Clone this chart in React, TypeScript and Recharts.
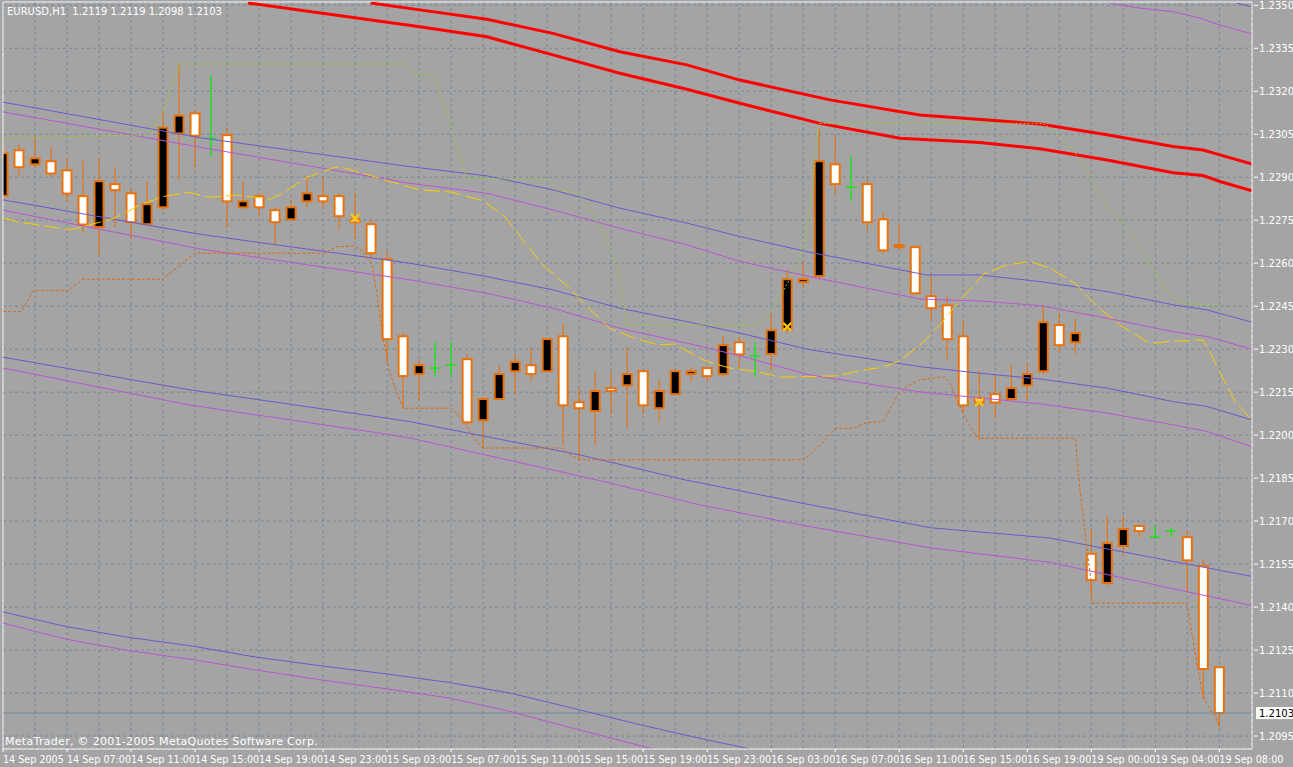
import React from "react"
import {
  ComposedChart,
  Bar,
  Line,
  Scatter,
  XAxis,
  YAxis,
  CartesianGrid,
  ReferenceLine,
} from "recharts"

const symbol = "EURUSD,H1"

// hourly bars, bar 0 = 14 Sep 03:00
const opens = [
  1.22835, 1.22994, 1.22945, 1.22956, 1.22924, 1.22834, 1.22726, 1.22876, 1.22844, 1.22736,
  1.22795, 1.23053, 1.23123, 1.23036, 1.23047, 1.22795, 1.22834, 1.22785, 1.22753, 1.22816,
  1.22834, 1.22834, 1.22753, 1.22736, 1.22614, 1.22345, 1.22213, 1.22234, 1.22244, 1.22265,
  1.22052, 1.22126, 1.22223, 1.22244, 1.22223, 1.22345, 1.22115, 1.22084, 1.22164, 1.22174,
  1.22223, 1.22094, 1.22143, 1.22213, 1.22234, 1.22213, 1.22324, 1.22276, 1.22283, 1.2237,
  1.22534, 1.22555, 1.22945, 1.22865, 1.22876, 1.22753, 1.22656, 1.22656, 1.22485, 1.22453,
  1.22345, 1.22129, 1.22143, 1.22126, 1.22174, 1.22223, 1.22384, 1.22324, 1.21586, 1.21484,
  1.21613, 1.21683, 1.21644, 1.21665, 1.21644, 1.21543, 1.2119,
]
const highs = [
  1.23037, 1.23015, 1.23044, 1.23006, 1.22966, 1.22958, 1.22966, 1.22937, 1.22865, 1.22887,
  1.23135, 1.23298, 1.23135, 1.23256, 1.23071, 1.22887, 1.22844, 1.22795, 1.2282, 1.229,
  1.229, 1.22844, 1.22844, 1.22753, 1.22642, 1.22356, 1.22265, 1.22325, 1.22325, 1.22283,
  1.22133, 1.22244, 1.22283, 1.22306, 1.22338, 1.22384, 1.22167, 1.22223, 1.22223, 1.22305,
  1.22223, 1.22195, 1.22223, 1.22237, 1.22234, 1.22345, 1.22345, 1.22324, 1.22426, 1.22576,
  1.22607, 1.23071, 1.23049, 1.22974, 1.22893, 1.22774, 1.22743, 1.22663, 1.22555, 1.22485,
  1.22401, 1.22223, 1.22213, 1.22244, 1.22251, 1.22453, 1.22426, 1.22405, 1.21673, 1.21716,
  1.21716, 1.21683, 1.21685, 1.21676, 1.21667, 1.21565, 1.2119,
]
const lows = [
  1.22821, 1.22902, 1.22933, 1.22902, 1.22813, 1.22705, 1.22629, 1.22724, 1.22685, 1.22734,
  1.22786, 1.22891, 1.22933, 1.22974, 1.22724, 1.22795, 1.22763, 1.22661, 1.22753, 1.22795,
  1.22792, 1.22715, 1.22684, 1.22617, 1.22258, 1.22094, 1.22122, 1.22204, 1.22204, 1.22036,
  1.21955, 1.22123, 1.22143, 1.22185, 1.2222, 1.21965, 1.21913, 1.21965, 1.22073, 1.22023,
  1.22073, 1.22045, 1.2214, 1.22185, 1.22185, 1.22204, 1.22234, 1.22204, 1.22223, 1.22356,
  1.22513, 1.22542, 1.22841, 1.22816, 1.22712, 1.22635, 1.22645, 1.22495, 1.22401, 1.22265,
  1.22077, 1.21984, 1.22059, 1.22115, 1.22122, 1.22213, 1.2229, 1.22283, 1.21436, 1.21472,
  1.21581, 1.21644, 1.21644, 1.21644, 1.21454, 1.21079, 1.2098,
]
const closes = [
  1.22984, 1.22935, 1.22966, 1.22913, 1.22843, 1.22735, 1.22886, 1.22855, 1.22743, 1.22806,
  1.23073, 1.23115, 1.23045, 1.23036, 1.22816, 1.22816, 1.22795, 1.22743, 1.22795, 1.22844,
  1.22816, 1.22764, 1.22743, 1.22635, 1.22335, 1.22206, 1.22244, 1.22234, 1.22244, 1.22045,
  1.22126, 1.22213, 1.22255, 1.22213, 1.22335, 1.22104, 1.22094, 1.22154, 1.22154, 1.22213,
  1.22104, 1.22154, 1.22223, 1.22223, 1.22206, 1.22314, 1.22282, 1.22276, 1.22366, 1.22544,
  1.22544, 1.22956, 1.22876, 1.22865, 1.22743, 1.22645, 1.22663, 1.22495, 1.22443, 1.22335,
  1.22104, 1.22114, 1.22114, 1.22164, 1.22213, 1.22394, 1.22314, 1.22356, 1.21494, 1.21623,
  1.21672, 1.21665, 1.21644, 1.21665, 1.21563, 1.21184, 1.2103,
]

// one label every 4 bars
const timeLabels = [
  "14 Sep 2005", "14 Sep 07:00", "14 Sep 11:00", "14 Sep 15:00", "14 Sep 19:00",
  "14 Sep 23:00", "15 Sep 03:00", "15 Sep 07:00", "15 Sep 11:00", "15 Sep 15:00",
  "15 Sep 19:00", "15 Sep 23:00", "16 Sep 03:00", "16 Sep 07:00", "16 Sep 11:00",
  "16 Sep 15:00", "16 Sep 19:00", "19 Sep 00:00", "19 Sep 04:00", "19 Sep 08:00",
]

const priceTicks = [
  1.2095, 1.211, 1.2125, 1.214, 1.2155, 1.217, 1.2185, 1.22, 1.2215,
  1.223, 1.2245, 1.226, 1.2275, 1.229, 1.2305, 1.232, 1.2335, 1.235,
]

// indicator lines: [bar position, price]
const redUpper = [
  [22.98, 1.23508], [26.04, 1.23484], [30.23, 1.23451], [34.36, 1.23402], [38.54, 1.23338],
  [42.73, 1.23292], [46.04, 1.23239], [51.67, 1.2317], [57.29, 1.23117], [64.79, 1.23086],
  [68.98, 1.23048], [73.11, 1.23007], [74.98, 1.22995], [76.04, 1.22978], [78.04, 1.22946],
]
const redLower = [
  [15.3, 1.23508], [26.04, 1.23425], [30.23, 1.2339], [34.36, 1.23327], [38.54, 1.23263],
  [42.73, 1.23207], [46.04, 1.23158], [51.04, 1.23088], [56.04, 1.23036], [61.04, 1.23021],
  [64.79, 1.22999], [68.98, 1.2296], [73.11, 1.22916], [74.98, 1.22906], [76.04, 1.22885],
  [78.04, 1.22853],
]
const blue0 = [[77.09, 1.23507], [78.04, 1.23495]]
const purple0 = [
  [69.17, 1.23507], [71.04, 1.2349], [73.11, 1.23478], [74.79, 1.23455], [76.04, 1.23431],
  [78.04, 1.234],
]
const blue1 = [
  [0, 1.23162], [12.29, 1.23038], [25.42, 1.22937], [30.23, 1.22905], [34.36, 1.22856],
  [38.54, 1.22792], [42.73, 1.2274], [46.04, 1.22693], [50.42, 1.22638], [57.7, 1.22559],
  [61, 1.22559], [64.79, 1.22536], [68.98, 1.22501], [73.11, 1.22455], [75.23, 1.22437],
  [78.04, 1.22394],
]
const purple1 = [
  [0, 1.23128], [12.29, 1.23005], [25.42, 1.22879], [30.23, 1.22844], [34.36, 1.22786],
  [38.54, 1.22722], [42.73, 1.22664], [46.04, 1.22606], [50.42, 1.22553], [57.29, 1.22475],
  [61.04, 1.22468], [64.79, 1.22452], [68.98, 1.22408], [73.11, 1.22361], [75.23, 1.22344],
  [78.04, 1.223],
]
const blue2 = [
  [0, 1.22821], [12.29, 1.22701], [25.42, 1.226], [30.23, 1.22553], [34.36, 1.22507],
  [38.54, 1.22443], [42.73, 1.22396], [46.04, 1.22356], [50.42, 1.22298], [57.29, 1.22239],
  [61.04, 1.22216], [64.79, 1.22196], [68.98, 1.22164], [73.11, 1.22117], [75.23, 1.221],
  [78.04, 1.22053],
]
const purple2 = [
  [0, 1.22785], [12.29, 1.2265], [25.42, 1.22542], [30.23, 1.22495], [34.36, 1.22443],
  [38.54, 1.22373], [42.73, 1.22321], [46.04, 1.22277], [50.42, 1.2221], [57.29, 1.22151],
  [61.04, 1.2213], [64.79, 1.22109], [68.98, 1.22077], [73.11, 1.22036], [75.23, 1.22013],
  [78.04, 1.21959],
]
const blue3 = [
  [0, 1.22272], [11.67, 1.22158], [23.54, 1.22063], [25.42, 1.22047], [36.04, 1.21931],
  [42.6, 1.21844], [49.79, 1.21764], [57.92, 1.21677], [65.42, 1.21641], [78.04, 1.21507],
]
const purple3 = [
  [0, 1.22234], [11.67, 1.22105], [23.54, 1.22007], [25.42, 1.2199], [37.09, 1.21844],
  [43.54, 1.21757], [49.79, 1.21687], [57.92, 1.21607], [65.42, 1.21556], [78.04, 1.21405],
]
const blue4 = [
  [0, 1.21383], [3.94, 1.21332], [7.77, 1.21295], [11.92, 1.21263], [15.73, 1.21226],
  [19.86, 1.21195], [24.04, 1.21166], [27.86, 1.21137], [31.67, 1.211], [35.83, 1.21044],
  [39.98, 1.20987], [43.79, 1.20939], [46.67, 1.20905],
]
const purple4 = [
  [0, 1.21344], [3.94, 1.21288], [7.77, 1.21249], [11.92, 1.21216], [15.73, 1.21181],
  [19.86, 1.21146], [24.04, 1.21114], [27.86, 1.21083], [31.67, 1.21036], [35.83, 1.20974],
  [40.61, 1.20905],
]
const goldMa = [
  [0, 1.22757], [1.04, 1.22743], [2.48, 1.22731], [4.17, 1.22716], [5.23, 1.22731],
  [6.04, 1.22743], [6.86, 1.22755], [7.73, 1.22778], [8.54, 1.22803], [9.98, 1.22832],
  [11.48, 1.22848], [12.92, 1.2283], [14.61, 1.22838], [16.04, 1.22828], [16.67, 1.22823],
  [17.48, 1.22844], [18.98, 1.22899], [20.54, 1.22931], [21.04, 1.22937], [22.73, 1.2291],
  [24.17, 1.22885], [26.04, 1.22856], [28.04, 1.22848], [29.98, 1.22818], [31.36, 1.22763],
  [32.48, 1.22681], [33.73, 1.22594], [35.23, 1.22521], [36.54, 1.22446], [37.92, 1.22373],
  [39.48, 1.22338], [40.92, 1.22315], [41.98, 1.22318], [42.42, 1.22303], [43.98, 1.22257],
  [45.42, 1.22234], [47.11, 1.22222], [48.54, 1.22202], [49.98, 1.22204], [52.11, 1.22207],
  [53.54, 1.22225], [54.98, 1.22237], [56.04, 1.2226], [57.48, 1.22323], [58.54, 1.22385],
  [59.86, 1.22474], [61.29, 1.22563], [62.73, 1.22594], [64.23, 1.22606], [65.54, 1.22579],
  [66.98, 1.2253], [68.36, 1.22449], [69.92, 1.22379], [71.36, 1.2233], [71.98, 1.22321],
  [72.79, 1.22327], [74.98, 1.22332], [75.23, 1.22309], [76.17, 1.22204], [76.98, 1.22117],
  [77.92, 1.22059],
]
const lowChannel = [
  [0, 1.22431], [1.15, 1.22431], [1.88, 1.22504], [4.04, 1.22504], [4.98, 1.22544],
  [9.98, 1.22544], [11.98, 1.22635], [20.11, 1.22635], [20.86, 1.22658], [21.98, 1.2266],
  [22.48, 1.2264], [23.04, 1.226], [23.36, 1.22495], [23.73, 1.22344], [24.17, 1.22216],
  [24.98, 1.22094], [28.02, 1.22094], [28.73, 1.22053], [29.36, 1.21995], [29.98, 1.21955],
  [34.9, 1.21955], [35.61, 1.21925], [36.04, 1.21914], [49.98, 1.21914], [50.42, 1.21931],
  [51.48, 1.21989], [51.98, 1.22024], [53.11, 1.22024], [53.98, 1.22044], [54.98, 1.22047],
  [55.86, 1.22135], [56.48, 1.2217], [57.29, 1.22193], [58.86, 1.22204], [59.17, 1.22181],
  [59.79, 1.221], [60.42, 1.2203], [60.86, 1.21995], [61.04, 1.21989], [67, 1.21989],
  [67.29, 1.21809], [67.48, 1.21716], [67.79, 1.21576], [67.98, 1.21495], [68.04, 1.21414],
  [73.98, 1.21414], [74.04, 1.21391], [74.6, 1.21205], [74.98, 1.21088], [75.42, 1.21042],
  [75.86, 1.21007], [75.98, 1.20983],
]
const highChannel = [
  [0, 1.23036], [9.04, 1.23048], [9.98, 1.23123], [11.04, 1.23295], [25.11, 1.23295],
  [25.73, 1.23257], [26.98, 1.23256], [27.17, 1.23216], [27.73, 1.23123], [28.11, 1.23053],
  [28.54, 1.22984], [28.86, 1.22914], [29.04, 1.22897], [34.04, 1.22893], [34.61, 1.22856],
  [35.92, 1.22844], [36.48, 1.22809], [37.29, 1.22728], [37.92, 1.22658], [38.36, 1.22588],
  [38.73, 1.22472], [38.98, 1.22385], [47.11, 1.22385], [47.73, 1.22414], [48.54, 1.22483],
  [49.61, 1.22588], [50.11, 1.22681], [50.54, 1.22844], [50.92, 1.23077], [51.04, 1.23088],
  [64.98, 1.23088], [65.86, 1.23053], [66.86, 1.22995], [67.92, 1.22902], [68.98, 1.22797],
  [69.79, 1.22751], [71.04, 1.22658], [72.11, 1.22553], [73.11, 1.22483], [73.73, 1.22458],
  [76.04, 1.22455],
]
const signals = [[22, 1.22758], [49, 1.22378], [61, 1.22116]]

const W = 1293
const H = 767
const Y_MIN = 1.209047
const Y_MAX = 1.235115
const X_MAX = 78.04
const font = "'DejaVu Sans', sans-serif"

const bars = opens.map((o, i) => ({ x: i, o, h: highs[i], l: lows[i], c: closes[i] }))
const pts = (arr: number[][]) => arr.map(([x, y]) => ({ x, y }))
const gridTicks = Array.from({ length: 40 }, (_, i) => i * 2)

const lines = [
  { data: blue0, color: "#6a5acd", width: 1 },
  { data: purple0, color: "#ba55d3", width: 1 },
  { data: blue1, color: "#6a5acd", width: 1 },
  { data: purple1, color: "#ba55d3", width: 1 },
  { data: blue2, color: "#6a5acd", width: 1 },
  { data: purple2, color: "#ba55d3", width: 1 },
  { data: blue3, color: "#6a5acd", width: 1 },
  { data: purple3, color: "#ba55d3", width: 1 },
  { data: blue4, color: "#6a5acd", width: 1 },
  { data: purple4, color: "#ba55d3", width: 1 },
  { data: redUpper, color: "#ff0000", width: 3 },
  { data: redLower, color: "#ff0000", width: 3 },
  { data: highChannel, color: "#9acd32", width: 1, dash: "2 2" },
  { data: lowChannel, color: "#e0680c", width: 1, dash: "3 2" },
  { data: goldMa, color: "#ffcc00", width: 1, dash: "16 5" },
]

function Candle(props: any) {
  const { x, y, width, height, payload } = props
  if (payload == null || x == null || y == null) return null
  const { o, h, l, c } = payload
  const top = Math.min(y, y + height)
  const bottom = Math.max(y, y + height)
  const span = h - l
  const toY = (v: number) => (span === 0 ? top : top + ((h - v) / span) * (bottom - top))
  const cx = x + width / 2
  const yo = toY(o)
  const yc = toY(c)
  if (o === c) {
    return (
      <g>
        <line x1={cx} x2={cx} y1={top} y2={bottom} stroke="#00ee00" strokeWidth={1.2} />
        <line x1={cx - 5.5} x2={cx + 5.5} y1={yo} y2={yo} stroke="#00ee00" strokeWidth={1.2} />
      </g>
    )
  }
  const bodyTop = Math.min(yo, yc)
  const bodyH = Math.max(Math.abs(yo - yc), 1)
  return (
    <g>
      <line x1={cx} x2={cx} y1={top} y2={bottom} stroke="#e8730c" strokeWidth={1.1} />
      <rect
        x={cx - 4.5}
        y={bodyTop}
        width={9}
        height={bodyH}
        fill={o > c ? "#ffffff" : "#000000"}
        stroke="#e8730c"
        strokeWidth={2}
      />
    </g>
  )
}

function Signal(props: any) {
  const { cx, cy } = props
  if (cx == null || cy == null) return null
  return (
    <g stroke="#ffc800" strokeWidth={2}>
      <line x1={cx - 4} y1={cy - 4} x2={cx + 4} y2={cy + 4} />
      <line x1={cx - 4} y1={cy + 4} x2={cx + 4} y2={cy - 4} />
    </g>
  )
}

function TimeTick(props: any) {
  const { x, y, payload } = props
  const v = payload.value
  if (v % 4 !== 0) return null
  return (
    <g>
      <line x1={x} x2={x} y1={y} y2={y + 3} stroke="#ffffff" />
      <text x={x} y={y + 14} fill="#ffffff" fontSize={9.6} fontFamily={font}>
        {timeLabels[v / 4]}
      </text>
    </g>
  )
}

function PriceTick(props: any) {
  const { x, y, payload } = props
  return (
    <g>
      <line x1={x + 2} x2={x + 6} y1={y} y2={y} stroke="#ffffff" />
      <text x={x + 7} y={y + 3.5} fill="#ffffff" fontSize={10} fontFamily={font}>
        {payload.value.toFixed(4)}
      </text>
    </g>
  )
}

function PriceTag(props: any) {
  const vb = props.viewBox
  if (!vb) return null
  const left = vb.x + vb.width + 4
  return (
    <g>
      <rect x={left} y={vb.y - 6} width={W - left} height={12} fill="#ffffff" />
      <text x={left + 3} y={vb.y + 3.5} fill="#000000" fontSize={10} fontFamily={font}>
        {closes[closes.length - 1].toFixed(4)}
      </text>
    </g>
  )
}

export default function App() {
  const last = opens.length - 1
  const title = `${symbol}  ${opens[last].toFixed(4)} ${highs[last].toFixed(4)} ${lows[last].toFixed(4)} ${closes[last].toFixed(4)}`
  return (
    <div style={{ position: "relative", width: W, height: H, background: "#a4a4a4" }}>
      <style>{"body{margin:0;background:#a4a4a4}"}</style>
      <ComposedChart
        width={W}
        height={H}
        data={bars}
        margin={{ top: 2, right: 0, bottom: 0, left: 3 }}
      >
        <CartesianGrid stroke="#778899" strokeDasharray="3 3" />
        <XAxis
          dataKey="x"
          type="number"
          domain={[0, X_MAX]}
          ticks={gridTicks}
          interval={0}
          allowDataOverflow
          height={18}
          tickSize={0}
          tickMargin={0}
          tickLine={false}
          axisLine={{ stroke: "#ffffff" }}
          tick={<TimeTick />}
        />
        <YAxis
          orientation="right"
          type="number"
          domain={[Y_MIN, Y_MAX]}
          ticks={priceTicks}
          interval={0}
          allowDataOverflow
          width={41}
          tickSize={0}
          tickMargin={0}
          tickLine={false}
          axisLine={{ stroke: "#ffffff" }}
          tick={<PriceTick />}
        />
        <ReferenceLine x={0} stroke="#ffffff" />
        <ReferenceLine y={Y_MAX} stroke="#ffffff" />
        <ReferenceLine
          y={closes[last]}
          stroke="#778899"
          label={(p: any) => <PriceTag {...p} />}
        />
        <Bar
          dataKey={(d: any) => [d.l, d.h]}
          barSize={9}
          shape={<Candle />}
          isAnimationActive={false}
        />
        {lines.map((s, i) => (
          <Line
            key={i}
            data={pts(s.data)}
            dataKey="y"
            type="linear"
            stroke={s.color}
            strokeWidth={s.width}
            strokeDasharray={s.dash}
            dot={false}
            activeDot={false}
            isAnimationActive={false}
          />
        ))}
        <Scatter
          data={pts(signals)}
          dataKey="y"
          shape={<Signal />}
          isAnimationActive={false}
        />
      </ComposedChart>
      <div
        style={{
          position: "absolute",
          left: 7,
          top: 6,
          color: "#ffffff",
          fontFamily: font,
          fontSize: 10,
          lineHeight: "12px",
          whiteSpace: "pre",
        }}
      >
        {title}
      </div>
      <div
        style={{
          position: "absolute",
          left: 5,
          top: 736,
          color: "#ffffff",
          fontFamily: font,
          fontSize: 11,
          letterSpacing: 0.3,
          lineHeight: "12px",
          whiteSpace: "pre",
        }}
      >
        MetaTrader, © 2001-2005 MetaQuotes Software Corp.
      </div>
    </div>
  )
}
